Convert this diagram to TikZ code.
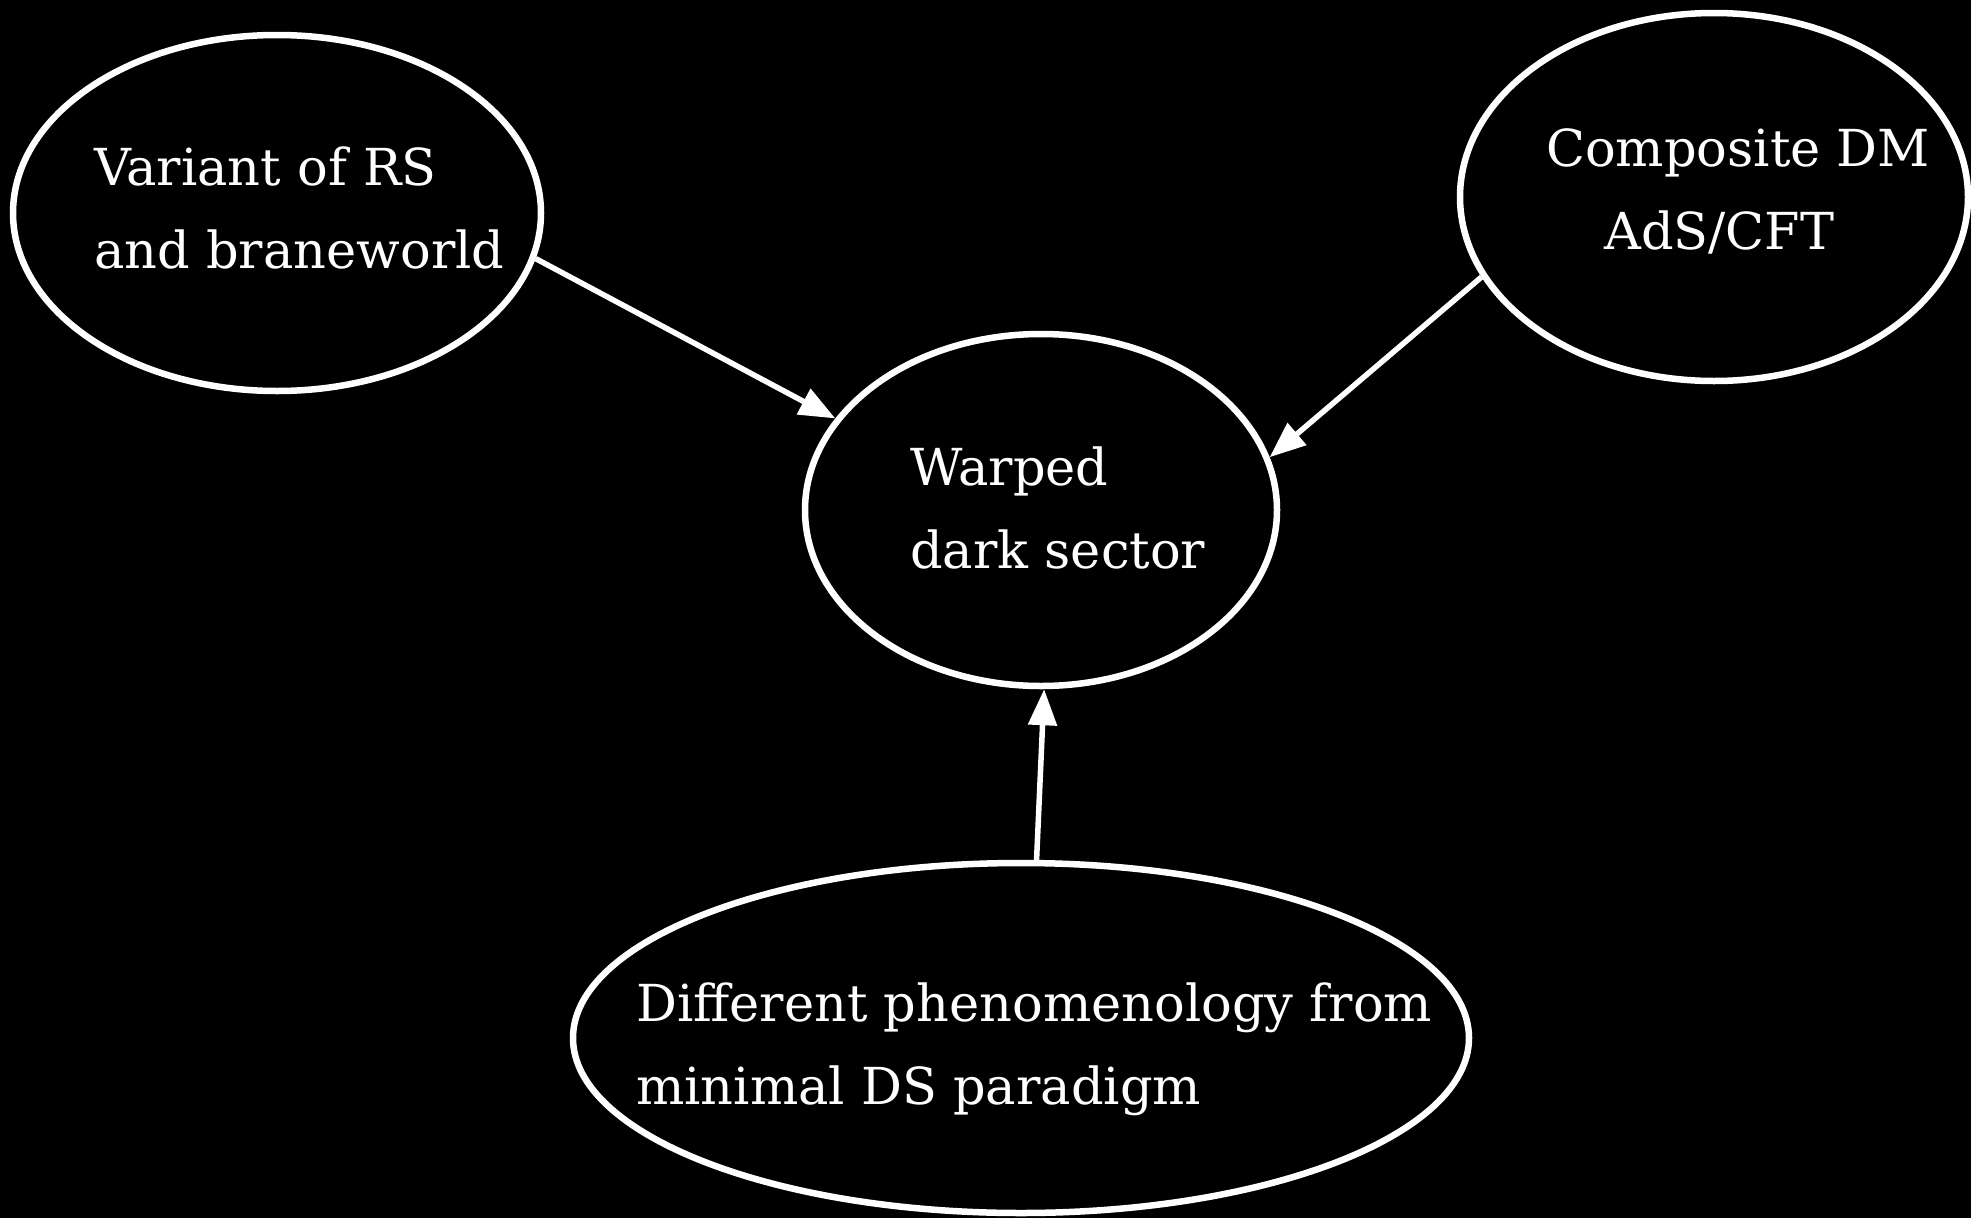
\documentclass[tikz,border=0pt]{standalone}
\usepackage{fontspec}
\setmainfont{DejaVu Serif}
\usetikzlibrary{shapes.geometric,arrows.meta}
\begin{document}
\begin{tikzpicture}[x=1pt,y=-1pt,
  bubble/.style={draw=white,line width=6.5pt,ellipse,inner sep=0pt},
  txt/.style={text=white,anchor=base west,align=left,inner sep=0pt,font=\fontsize{51}{83}\selectfont},
  link/.style={draw=white,line width=5.5pt,-{Triangle[length=36pt,width=28pt]}}]
\fill[black] (0,0) rectangle (1971,1218);
\useasboundingbox (0,0) rectangle (1971,1218);
\node[bubble,minimum width=528pt,minimum height=356pt] (rs) at (277,213) {};
\node[bubble,minimum width=508pt,minimum height=368pt] (cd) at (1714,197) {};
\node[bubble,minimum width=472pt,minimum height=352pt] (wd) at (1041,510) {};
\node[bubble,minimum width=896pt,minimum height=350pt] (dp) at (1021,1038) {};
\node[txt] (rst) at (94,268) {Variant of RS\\and braneworld};
\node[txt] (cdt) at (1546,249) {Composite DM\\\hspace*{58pt}AdS/CFT};
\node[txt] (wdt) at (910,568) {Warped\\dark sector};
\node[txt] (dpt) at (636,1104) {Different phenomenology from\\minimal DS paradigm};
\draw[link] (rs.-10) -- (wd.156);
\draw[link] (cd.199) -- (wd.13);
\draw[link] (dp.85) -- (wd.-89);
\end{tikzpicture}
\end{document}
